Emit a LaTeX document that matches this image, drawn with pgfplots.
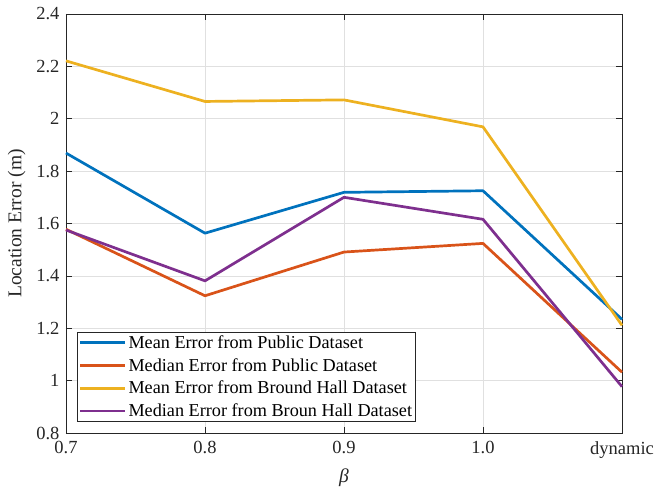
\documentclass[border=0pt]{standalone}
\usepackage{fontspec}
\setmainfont{Liberation Serif}
\usepackage{pgfplots}
\pgfplotsset{compat=1.18}
\usetikzlibrary{calc}

\definecolor{mblue}{rgb}{0,0.447,0.741}
\definecolor{morange}{rgb}{0.85,0.325,0.098}
\definecolor{myellow}{rgb}{0.929,0.694,0.125}
\definecolor{mpurple}{rgb}{0.494,0.184,0.556}
\definecolor{axgray}{rgb}{0.15,0.15,0.15}

\begin{document}
\begin{tikzpicture}
\begin{axis}[
  scale only axis,
  width=556bp, height=419bp,
  xmin=0, xmax=4, ymin=0.8, ymax=2.4,
  xtick={0,1,2,3,4},
  xticklabels={0.7,0.8,0.9,1.0,dynamic},
  ytick={0.8,1,...,2.4},
  yticklabel style={/pgf/number format/fixed, xshift=-3bp},
  /pgf/number format/assume math mode=true,
  tick align=inside,
  major tick length=6bp,
  axis line style={axgray, line width=0.7bp},
  tick style={axgray, line width=0.7bp},
  ticklabel style={font=\fontsize{18.5bp}{21bp}\selectfont, text=axgray},
  xticklabel style={yshift=-5bp},
  grid=major,
  major grid style={black!12, line width=0.7bp},
  xlabel={\textit{β}},
  ylabel={Location Error (m)},
  label style={font=\fontsize{19.5bp}{22bp}\selectfont, text=axgray},
  xlabel style={yshift=-4bp},
  ylabel style={yshift=4bp},
  legend style={at={(0.0198,0.026)}, anchor=south west, draw=axgray,
    line width=0.7bp, font=\fontsize{18.2bp}{21bp}\selectfont,
    inner sep=1.5bp, row sep=4.5bp, cells={anchor=west, inner xsep=3bp}},
  legend image code/.code={\draw[#1, line width=2.7bp] (0bp,0bp) -- (45bp,0bp);},
  every axis plot/.append style={line width=2.7bp, line join=round},
  clip=false,
]
\addplot[mblue] coordinates {(0,1.869) (1,1.563) (2,1.719) (3,1.725) (4,1.234)};
\addlegendentry{Mean Error from Public Dataset}
\addplot[morange] coordinates {(0,1.578) (1,1.324) (2,1.491) (3,1.524) (4,1.032)};
\addlegendentry{Median Error from Public Dataset}
\addplot[myellow] coordinates {(0,2.221) (1,2.066) (2,2.072) (3,1.969) (4,1.211)};
\addlegendentry{Mean Error from Bround Hall Dataset}
\addplot[mpurple] coordinates {(0,1.575) (1,1.381) (2,1.700) (3,1.616) (4,0.977)};
\addlegendentry{Median Error from Broun Hall Dataset}
\coordinate (sw) at (rel axis cs:0,0);
\coordinate (ne) at (rel axis cs:1,1);
\end{axis}
\pgfresetboundingbox
\path ($(sw)+(-66bp,-60bp)$) rectangle ($(ne)+(34bp,14bp)$);
\end{tikzpicture}
\end{document}
